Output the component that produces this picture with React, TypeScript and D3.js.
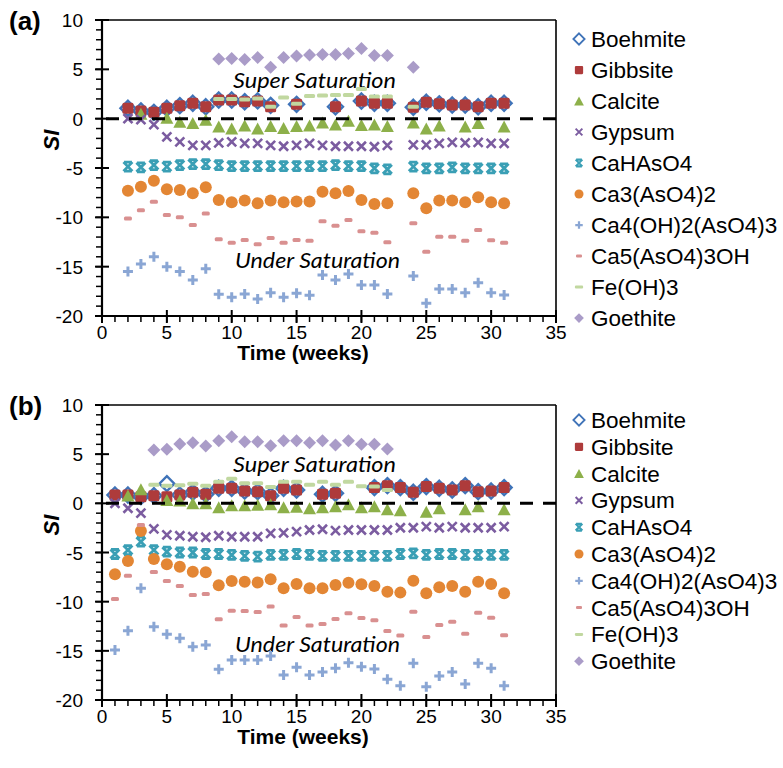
import React from 'react';
import * as d3 from 'd3';

// ---------- Data ----------
const weeksA = [2,3,4,5,6,7,8,9,10,11,12,13,14,15,16,17,18,19,20,21,22,24,25,26,27,28,29,30,31];
const boehmiteA = [1.05,0.78,0.64,1.05,1.32,1.56,1.21,1.89,1.89,1.72,1.8,1.35,null,1.45,null,null,1.21,null,1.79,1.56,1.56,1.15,1.66,1.5,1.38,1.38,1.21,1.56,1.56];
const gibbsiteA = [1.05,0.78,0.64,1.05,1.32,1.56,1.21,1.89,1.89,1.72,1.8,1.21,null,1.45,null,null,1.21,null,1.79,1.56,1.56,1.15,1.66,1.5,1.38,1.38,1.21,1.56,1.56];
const calciteA = [null,0.5,null,0.1,-0.3,-0.45,-0.1,-0.8,-1.0,-0.7,-1.0,-0.75,-0.95,-0.75,-0.7,-0.4,-0.6,-0.2,-0.65,-0.6,-0.75,-0.4,-1.0,-0.7,null,-0.8,-0.45,null,-0.8];
const gypsumA = [0.0,-0.1,-0.6,-1.85,-2.35,-2.7,-2.7,-2.45,-2.35,-2.5,-2.5,-2.7,-2.8,-2.7,-2.5,-2.7,-2.8,-2.8,-2.8,-2.85,-2.7,-2.65,-2.65,-2.5,-2.4,-2.45,-2.4,-2.5,-2.5];
const cahaso4A = [-4.86,-4.93,-4.7,-4.86,-4.7,-4.6,-4.6,-4.7,-4.8,-4.8,-4.8,-4.8,-4.8,-4.8,-4.8,-4.8,-4.7,-4.8,-4.8,-5.03,-5.13,-4.86,-5.03,-5.03,-4.93,-5.03,-5.03,-5.03,-5.03];
const ca3A = [-7.3,-6.9,-6.3,-7.16,-7.23,-7.57,-6.96,-8.24,-8.48,-8.3,-8.58,-8.3,-8.48,-8.4,-8.4,-7.4,-7.57,-7.33,-8.24,-8.65,-8.58,-7.57,-9.09,-8.3,-8.3,-8.48,-7.97,-8.48,-8.58];
const ca4A = [-15.5,-14.73,-13.99,-15.0,-15.5,-16.35,-15.2,-17.8,-18.1,-17.77,-18.28,-17.64,-18.1,-17.7,-17.9,-15.84,-16.35,-15.74,-16.86,-16.86,-17.77,-15.94,-18.72,-17.26,-17.26,-17.64,-16.62,-17.64,-17.87];
const ca5A = [-10.13,-9.29,-8.41,-9.76,-10.0,-10.78,-9.6,-12.23,-12.57,-12.3,-12.74,-12.1,-12.57,-12.3,-12.37,-10.4,-10.85,-10.27,-11.42,-11.55,-12.53,-10.6,-13.48,-11.96,-11.96,-12.37,-11.28,-12.33,-12.57];
const feohA = [null,null,null,null,null,null,null,2.0,2.0,1.95,2.05,1.2,2.15,1.5,2.3,2.35,2.4,2.4,3.0,2.25,2.25,1.2,null,null,null,null,null,null,null];
const goethiteA = [null,null,null,null,null,null,null,6.05,6.1,6.0,6.2,5.2,6.2,6.35,6.45,6.5,6.5,6.6,7.1,6.4,6.4,5.2,null,null,null,null,null,null,null];

const weeksB = [1,2,3,4,5,6,7,8,9,10,11,12,13,14,15,16,17,18,19,20,21,22,23,24,25,26,27,28,29,30,31];
const boehmiteB = [0.85,0.85,0.68,0.78,2.0,0.85,1.12,0.92,1.53,1.53,1.25,1.19,0.78,1.53,1.36,null,0.92,1.02,null,null,1.6,1.8,1.6,1.12,1.7,1.53,1.36,1.8,1.19,1.25,1.6];
const gibbsiteB = [0.85,0.85,0.68,0.78,0.68,0.85,1.12,0.92,1.53,1.53,1.25,1.19,0.78,1.53,1.36,null,0.92,1.02,null,null,1.6,1.8,1.6,1.12,1.7,1.53,1.36,1.8,1.19,1.25,1.6];
const calciteB = [null,0.8,1.42,null,0.34,0.3,0.0,0.0,-0.41,-0.2,-0.2,-0.15,-0.1,-0.41,-0.35,-0.51,-0.41,-0.3,-0.1,-0.41,-0.3,-0.61,-0.71,null,-0.85,-0.51,null,-0.61,-0.3,null,-0.61];
const gypsumB = [0.0,-0.5,-1.0,-2.6,-3.2,-3.3,-3.4,-3.45,-3.3,-3.4,-3.4,-3.4,-3.05,-3.0,-2.88,-2.71,-2.64,-2.78,-2.71,-2.71,-2.71,-2.71,-2.48,-2.48,-2.37,-2.48,-2.37,-2.48,-2.48,-2.48,-2.37];
const cahaso4B = [-5.15,-4.75,-3.9,-4.75,-4.92,-5.0,-5.0,-5.15,-5.15,-5.25,-5.35,-5.42,-5.25,-5.25,-5.15,-5.25,-5.35,-5.35,-5.35,-5.35,-5.35,-5.35,-5.15,-5.08,-5.25,-5.15,-5.15,-5.25,-5.25,-5.25,-5.25];
const ca3B = [-7.22,-5.86,-2.82,-5.66,-6.2,-6.44,-6.95,-7.02,-8.32,-7.9,-7.97,-8.05,-7.73,-8.64,-8.2,-8.64,-8.64,-8.31,-8.07,-8.24,-8.41,-8.98,-9.08,-7.87,-9.15,-8.54,-8.41,-8.98,-7.97,-8.2,-9.15];
const ca4B = [-14.92,-12.95,-8.64,-12.55,-13.32,-13.73,-14.58,-14.41,-16.88,-15.93,-15.93,-15.93,-15.53,-17.46,-16.68,-17.46,-17.15,-16.78,-16.2,-16.61,-16.85,-17.9,-18.55,-16.27,-18.65,-17.56,-17.15,-18.38,-16.27,-16.78,-18.55];
const ca5B = [-9.73,-7.36,-2.2,-6.98,-7.9,-8.41,-9.32,-9.22,-11.8,-10.92,-10.95,-11.05,-10.5,-12.43,-11.55,-12.43,-12.27,-11.76,-11.19,-11.66,-11.9,-12.98,-13.45,-11.02,-13.59,-12.37,-12.03,-13.25,-11.12,-11.63,-13.42];
const feohB = [null,null,null,1.9,1.8,1.85,2.0,1.8,2.2,2.5,2.05,2.05,1.65,2.2,2.2,1.9,2.2,1.9,2.2,1.75,1.7,1.35,null,null,null,null,null,null,null,null,null];
const goethiteB = [null,null,null,5.42,5.5,6.03,6.17,5.83,6.37,6.78,6.27,6.27,5.86,6.37,6.37,6.17,6.37,5.93,6.37,6.0,6.0,5.52,null,null,null,null,null,null,null,null,null];

const seriesNames = ['Boehmite','Gibbsite','Calcite','Gypsum','CaHAsO4','Ca3(AsO4)2','Ca4(OH)2(AsO4)3','Ca5(AsO4)3OH','Fe(OH)3','Goethite'];
const seriesColors = ['#3F73B8','#AE3B3B','#8DB04A','#7B5CA0','#3A9FB5','#E38634','#8AA6D4','#D99090','#C1D8A0','#AA9CC8'];
const seriesShapes = ['diamondOpen','square','triangle','x','star','circle','plus','dashSmall','dashLong','diamond'];

const xTicks = [0,5,10,15,20,25,30,35];
const yTicks = [10,5,0,-5,-10,-15,-20];
const panelLabels = ['(a)','(b)'];
const xTitle = 'Time (weeks)';
const yTitle = 'SI';
const superText = 'Super Saturation';
const underText = 'Under Saturation';

const FONT = "'Liberation Sans', Arial, sans-serif";

function Marker({ shape, x, y, color, s = 1 }: { shape: string; x: number; y: number; color: string; s?: number }) {
  switch (shape) {
    case 'diamondOpen': {
      const h = 7.5 * s;
      return <path d={`M${x},${y - h}L${x + h},${y}L${x},${y + h}L${x - h},${y}Z`} fill="none" stroke={color} strokeWidth={2.4 * s} />;
    }
    case 'square': {
      const h = 5.5 * s;
      return <rect x={x - h} y={y - h} width={2 * h} height={2 * h} rx={1.5 * s} fill={color} />;
    }
    case 'triangle': {
      const w = 6.5 * s, hh = 6 * s;
      return <path d={`M${x},${y - hh}L${x + w},${y + hh}L${x - w},${y + hh}Z`} fill={color} />;
    }
    case 'x': {
      const h = 4.5 * s;
      return <path d={`M${x - h},${y - h}L${x + h},${y + h}M${x - h},${y + h}L${x + h},${y - h}`} stroke={color} strokeWidth={2.6 * s} />;
    }
    case 'star': {
      const h = 4.5 * s;
      return <path d={`M${x - h},${y - h}L${x + h},${y + h}M${x - h},${y + h}L${x + h},${y - h}M${x - h + 0.5},${y - h}L${x + h - 0.5},${y - h}M${x - h + 0.5},${y + h}L${x + h - 0.5},${y + h}`} stroke={color} strokeWidth={2.8 * s} />;
    }
    case 'circle':
      return <circle cx={x} cy={y} r={6 * s} fill={color} />;
    case 'plus': {
      const h = 5 * s;
      return <path d={`M${x - h},${y}L${x + h},${y}M${x},${y - h}L${x},${y + h}`} stroke={color} strokeWidth={3 * s} />;
    }
    case 'dashSmall':
      return <rect x={x - 4 * s} y={y - 2 * s} width={8 * s} height={4 * s} rx={1.5 * s} fill={color} />;
    case 'dashLong':
      return <rect x={x - 5.5 * s} y={y - 2 * s} width={11 * s} height={4 * s} rx={1.5 * s} fill={color} />;
    case 'diamond': {
      const h = 6.5 * s;
      return <path d={`M${x},${y - h}L${x + h},${y}L${x},${y + h}L${x - h},${y}Z`} fill={color} />;
    }
  }
  return null;
}

interface PanelProps {
  top: number;
  bottom: number;
  label: string;
  weeks: number[];
  series: (number | null)[][];
  legendTop: number;
  legendStep: number;
  superY: number;
  underY: number;
}

function Panel({ top, bottom, label, weeks, series, legendTop, legendStep, superY, underY }: PanelProps) {
  const left = 102, right = 556;
  const x = d3.scaleLinear().domain([0, 35]).range([left, right]);
  const y = d3.scaleLinear().domain([-20, 10]).range([bottom, top]);
  const minorX = d3.range(0, 36, 1);
  const minorY = d3.range(-20, 11, 1);
  const y0 = y(0);
  return (
    <g>
      {/* frame */}
      <line x1={left} x2={right} y1={top} y2={top} stroke="#000" strokeWidth={1.6} />
      <line x1={right} x2={right} y1={top} y2={bottom} stroke="#000" strokeWidth={1.6} />
      {/* minor ticks */}
      {minorX.map(v => <line key={'mx' + v} x1={x(v)} x2={x(v)} y1={bottom} y2={bottom + 6} stroke="#000" strokeWidth={1.5} />)}
      {minorY.map(v => <line key={'my' + v} x1={left - 6} x2={left} y1={y(v)} y2={y(v)} stroke="#000" strokeWidth={1.5} />)}
      {xTicks.map(v => <line key={'Mx' + v} x1={x(v)} x2={x(v)} y1={bottom - 6} y2={bottom + 7} stroke="#000" strokeWidth={2} />)}
      {yTicks.map(v => <line key={'My' + v} x1={left - 7} x2={left + 7} y1={y(v)} y2={y(v)} stroke="#000" strokeWidth={2} />)}
      {/* axes */}
      <line x1={left} x2={left} y1={top} y2={bottom} stroke="#000" strokeWidth={2.2} />
      <line x1={left} x2={right} y1={bottom} y2={bottom} stroke="#000" strokeWidth={2.2} />
      {/* tick labels */}
      {xTicks.map(v => (
        <text key={'lx' + v} x={x(v)} y={bottom + 23} textAnchor="middle" fontFamily={FONT} fontSize={19}>{v}</text>
      ))}
      {yTicks.map(v => (
        <text key={'ly' + v} x={left - 19} y={y(v) + 7} textAnchor="end" fontFamily={FONT} fontSize={19}>{v}</text>
      ))}
      <text x={(left + right) / 2 - 26} y={bottom + 44} textAnchor="middle" fontFamily={FONT} fontSize={21} fontWeight="bold">{xTitle}</text>
      <text transform={`translate(${59},${top + 120}) rotate(-90)`} textAnchor="middle" fontFamily={FONT} fontSize={22} fontWeight="bold" fontStyle="italic">{yTitle}</text>
      <text x={9} y={top + 10} fontFamily={FONT} fontSize={26} fontWeight="bold">{label}</text>
      {/* annotations */}
      <text x={233} y={superY} fontFamily="Lato, 'Open Sans', sans-serif" fontStyle="italic" fontSize={22} textLength={163} lengthAdjust="spacingAndGlyphs">{superText}</text>
      <text x={235} y={underY} fontFamily="Lato, 'Open Sans', sans-serif" fontStyle="italic" fontSize={22} textLength={165} lengthAdjust="spacingAndGlyphs">{underText}</text>
      {/* markers */}
      {series.map((vals, si) => (
        <g key={'s' + si}>
          {vals.map((v, i) => v === null ? null : (
            <Marker key={i} shape={seriesShapes[si]} x={x(weeks[i])} y={y(v)} color={seriesColors[si]} />
          ))}
        </g>
      ))}
      {/* zero line */}
      <line x1={left} x2={right} y1={y0} y2={y0} stroke="#000" strokeWidth={3} strokeDasharray="13,10" strokeDashoffset={-4} />
      {/* legend */}
      {seriesNames.map((n, i) => {
        const ly = legendTop + i * legendStep;
        return (
          <g key={'lg' + i}>
            <Marker shape={seriesShapes[i]} x={579} y={ly} color={seriesColors[i]} s={0.75} />
            <text x={591} y={ly + 8} fontFamily={FONT} fontSize={22.5}>{n}</text>
          </g>
        );
      })}
    </g>
  );
}

export default function App() {
  const seriesA = [boehmiteA, gibbsiteA, calciteA, gypsumA, cahaso4A, ca3A, ca4A, ca5A, feohA, goethiteA];
  const seriesB = [boehmiteB, gibbsiteB, calciteB, gypsumB, cahaso4B, ca3B, ca4B, ca5B, feohB, goethiteB];
  return (
    <svg width={783} height={768} style={{ position: 'absolute', left: 0, top: 0, background: '#fff' }}>
      <rect width={783} height={768} fill="#fff" />
      <Panel top={20} bottom={316} label={panelLabels[0]} weeks={weeksA} series={seriesA} legendTop={39} legendStep={31} superY={88} underY={268} />
      <Panel top={405} bottom={700} label={panelLabels[1]} weeks={weeksB} series={seriesB} legendTop={420} legendStep={26.8} superY={472} underY={652} />
    </svg>
  );
}
